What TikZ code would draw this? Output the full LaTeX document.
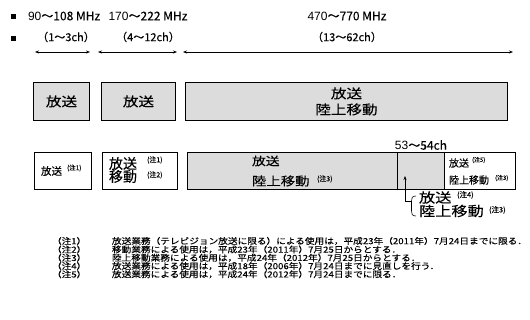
\documentclass[tikz,border=0pt]{standalone}
\usepackage{fontspec}
\setmainfont{Liberation Sans}
\newfontfamily\jpw{Noto Sans CJK JP}[FakeStretch=1.2,FakeBold=0.1]
\newfontfamily\jpn{Noto Sans CJK JP}[FakeBold=0.1]
\newfontfamily\jpnote{Noto Sans CJK JP}[FakeStretch=1.15,FakeBold=0.1]
\usetikzlibrary{arrows.meta}
\definecolor{bandgray}{HTML}{DCDCDC}
\begin{document}
\begin{tikzpicture}[x=1pt,y=-1pt,
  band/.style={draw=black, line width=0.9pt, fill=bandgray, inner sep=0pt, anchor=north west},
  wbox/.style={draw=black, line width=0.9pt, fill=white, inner sep=0pt, anchor=north west},
  txt/.style={inner sep=0pt, outer sep=0pt},
  uparrow/.style={-{Stealth[length=4pt,width=3pt]}},
  spanarrow/.style={{Stealth[length=4pt,width=3pt]}-{Stealth[length=4pt,width=3pt]}, line width=0.7pt},
  notetext/.style={txt, anchor=west, font=\jpnote\fontsize{8.4}{8.4}\selectfont},
  supnote/.style={txt, anchor=west, font=\jpn\fontsize{7}{7}\selectfont},
  headtext/.style={txt, font=\fontsize{12}{12}\selectfont}]
\useasboundingbox (0,0) rectangle (530,320);
% bullets
\node[fill=black, minimum size=5pt, inner sep=0pt] (b1) at (13,17) {};
\node[fill=black, minimum size=5pt, inner sep=0pt] (b2) at (13,39) {};
% header labels
\node[headtext, anchor=west] (f1) at (28,16) {90\jpn～108 MHz};
\node[headtext] (f2) at (148,16) {170\jpn～222 MHz};
\node[headtext] (f3) at (347,16) {470\jpn～770 MHz};
\node[headtext, font=\fontsize{11}{11}\selectfont] (c1) at (66,37) {\jpn（1～3ch）};
\node[headtext, font=\fontsize{11}{11}\selectfont] (c2) at (148,37) {\jpn（4～12ch）};
\node[headtext, font=\fontsize{11}{11}\selectfont] (c3) at (347,37) {\jpn（13～62ch）};
% range arrows
\coordinate (a1l) at (35,52); \coordinate (a1r) at (90,52);
\coordinate (a2l) at (98,52); \coordinate (a2r) at (177,52);
\coordinate (a3l) at (183,52); \coordinate (a3r) at (513,52);
\draw[spanarrow] (a1l) -- (a1r);
\draw[spanarrow] (a2l) -- (a2r);
\draw[spanarrow] (a3l) -- (a3r);
% row 1
\node[band, minimum width=56pt, minimum height=38pt] (r1a) at (33,82) {};
\node[band, minimum width=74pt, minimum height=38pt] (r1b) at (101,82) {};
\node[band, minimum width=322pt, minimum height=38pt] (r1c) at (185,82) {};
\node[txt, font=\jpw\fontsize{13}{16}\selectfont] (t1a) at (r1a.center) {放送};
\node[txt, font=\jpw\fontsize{13}{16}\selectfont] (t1b) at (r1b.center) {放送};
\node[txt, font=\jpw\fontsize{13}{16}\selectfont, align=center] (t1c) at (r1c.center) {放送\\陸上移動};
% row 2
\node[wbox, minimum width=57pt, minimum height=37pt] (r2a) at (34,152) {};
\node[wbox, minimum width=75pt, minimum height=37pt] (r2b) at (102,152) {};
\node[band, minimum width=210pt, minimum height=37pt] (r2c) at (187,152) {};
\node[band, minimum width=47pt, minimum height=37pt] (r2d) at (397,152) {};
\node[wbox, minimum width=71pt, minimum height=37pt] (r2e) at (444,152) {};
% row 2 texts
\node[txt, anchor=west, font=\jpn\fontsize{10.5}{10.5}\selectfont] (t2a) at (41,171) {放送};
\node[supnote, font=\jpn\fontsize{6.5}{6.5}\selectfont] (n2a) at (67,168) {(注1)};
\node[txt, anchor=west, font=\jpn\fontsize{14}{14}\selectfont] (t2b1) at (109,163.5) {放送};
\node[txt, anchor=west, font=\jpn\fontsize{14}{14}\selectfont] (t2b2) at (109,176.5) {移動};
\node[supnote] (n2b1) at (147,160) {(注1)};
\node[supnote] (n2b2) at (147,175) {(注2)};
\node[txt, anchor=west, font=\jpw\fontsize{11.5}{11.5}\selectfont] (t2c1) at (252,161) {放送};
\node[txt, anchor=west, font=\jpw\fontsize{12}{12}\selectfont] (t2c2) at (252,181) {陸上移動};
\node[supnote] (n2c) at (317,179) {(注3)};
\node[txt, anchor=west, font=\jpn\fontsize{10}{10}\selectfont] (t2e1) at (449,163) {放送};
\node[supnote, font=\jpn\fontsize{6}{6}\selectfont] (n2e1) at (472,160) {(注5)};
\node[txt, anchor=west, font=\jpn\fontsize{10}{10}\selectfont] (t2e2) at (449,180) {陸上移動};
\node[supnote, font=\jpn\fontsize{6}{6}\selectfont] (n2e2) at (495,178) {(注3)};
\node[headtext] (ch) at (421,145) {53\jpn～54ch};
% annotation below 53-54ch
\node[txt, anchor=west, font=\jpw\fontsize{13.5}{13.5}\selectfont] (t3a) at (419,197.5) {放送};
\node[supnote, font=\jpn\fontsize{7.5}{7.5}\selectfont] (n3a) at (457,195) {(注4)};
\node[txt, anchor=west, font=\jpw\fontsize{13.5}{13.5}\selectfont] (t3b) at (419,211) {陸上移動};
\node[supnote, font=\jpn\fontsize{7.5}{7.5}\selectfont] (n3b) at (489,210) {(注3)};
\coordinate (brt) at (416,196);
\coordinate (brb) at (416,216);
\coordinate (arr) at (405,176);
\draw[line width=0.6pt] (brt) .. controls (412,196) and (411.5,198) .. (411.5,201) -- (411.5,211) .. controls (411.5,214) and (412,216) .. (brb);
\draw[uparrow, line width=0.6pt] (411.5,201) -| (arr);
% notes
\foreach \i/\y in {1/241,2/249.5,3/257.8,4/266,5/274.3}{
  \node[notetext] (nl\i) at (52,\y) {（注\i）};
}
\node[notetext] (nt1) at (112,241) {放送業務（テレビジョン放送に限る）による使用は，平成23年（2011年）7月24日までに限る．};
\node[notetext] (nt2) at (112,249.5) {移動業務による使用は，平成23年（2011年）7月25日からとする．};
\node[notetext] (nt3) at (112,257.8) {陸上移動業務による使用は，平成24年（2012年）7月25日からとする．};
\node[notetext] (nt4) at (112,266) {放送業務による使用は，平成18年（2006年）7月24日までに見直しを行う．};
\node[notetext] (nt5) at (112,274.3) {放送業務による使用は，平成24年（2012年）7月24日までに限る．};
\end{tikzpicture}
\end{document}
